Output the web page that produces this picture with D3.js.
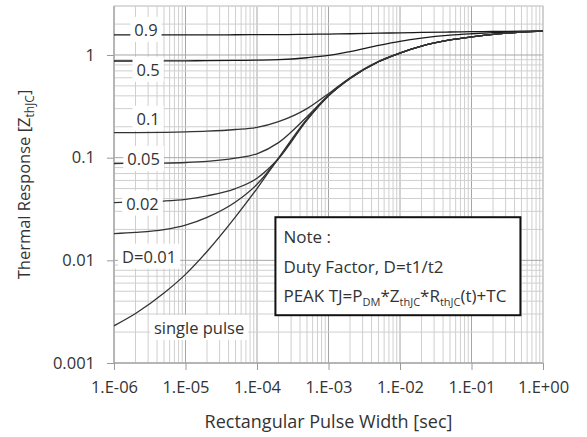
<!DOCTYPE html>
<html lang="en">
<head>
<meta charset="UTF-8">
<title>Thermal Response</title>
<style>
  body { margin: 0; padding: 0; background: #fff; }
  svg { display: block; font-family: "Open Sans", "Noto Sans", sans-serif; }
</style>
</head>
<body>
<script src="https://d3js.org/d3.v7.min.js"></script>
<script>
// pulse widths (sec)
const pulseWidth = [1e-6, 2e-6, 5e-6, 1e-5, 2e-5, 5e-5, 1e-4, 2e-4, 5e-4, 1e-3, 2e-3, 5e-3, 1e-2, 2e-2, 5e-2, 1e-1, 2e-1, 5e-1, 1];

// thermal response per duty factor
const d090 = [1.57, 1.57, 1.57, 1.57, 1.57, 1.575, 1.58, 1.58, 1.59, 1.60, 1.61, 1.63, 1.645, 1.66, 1.675, 1.685, 1.695, 1.705, 1.71];
const d050 = [0.874, 0.874, 0.876, 0.878, 0.88, 0.885, 0.89, 0.90, 0.94, 0.99, 1.08, 1.24, 1.36, 1.46, 1.56, 1.61, 1.65, 1.69, 1.71];
const d010 = [0.175, 0.175, 0.176, 0.178, 0.181, 0.188, 0.197, 0.224, 0.30, 0.42, 0.60, 0.865, 1.047, 1.22, 1.40, 1.50, 1.59, 1.67, 1.71];
const d005 = [0.0877, 0.088, 0.0886, 0.0897, 0.092, 0.099, 0.109, 0.14, 0.25, 0.405, 0.593, 0.86, 1.045, 1.22, 1.40, 1.50, 1.59, 1.67, 1.71];
const d002 = [0.0365, 0.0369, 0.0378, 0.0393, 0.0425, 0.050, 0.063, 0.098, 0.232, 0.40, 0.591, 0.86, 1.045, 1.22, 1.40, 1.50, 1.59, 1.67, 1.71];
const d001 = [0.0182, 0.0187, 0.0199, 0.0220, 0.0262, 0.037, 0.055, 0.098, 0.234, 0.40, 0.59, 0.86, 1.045, 1.22, 1.40, 1.50, 1.59, 1.67, 1.71];
const single = [0.0023, 0.00303, 0.0048, 0.0073, 0.0122, 0.0265, 0.050, 0.099, 0.238, 0.40, 0.59, 0.86, 1.045, 1.22, 1.40, 1.50, 1.59, 1.67, 1.71];

const seriesValues = [d090, d050, d010, d005, d002, d001, single];
const seriesNames = ['0.9', '0.5', '0.1', '0.05', '0.02', 'D=0.01', 'single pulse'];
// where each series label sits, in data units [pulse width, response]
const labelAt = [[2.8e-6, 1.75], [3.0e-6, 0.714], [3.0e-6, 0.238], [2.6e-6, 0.0968], [2.5e-6, 0.0355], [3.1e-6, 0.0108], [1.55e-5, 0.00218]];

const xTickValues = [1e-6, 1e-5, 1e-4, 1e-3, 1e-2, 1e-1, 1];
const xTickLabels = ['1.E-06', '1.E-05', '1.E-04', '1.E-03', '1.E-02', '1.E-01', '1.E+00'];
const yTickValues = [0.001, 0.01, 0.1, 1];
const yTickLabels = ['0.001', '0.01', '0.1', '1'];

const width = 587, height = 437;
const margin = { top: 6, right: 44, bottom: 74, left: 114 };

const svg = d3.select('body').append('svg')
  .attr('width', width)
  .attr('height', height);

const x = d3.scaleLog().domain([1e-6, 1]).range([margin.left, width - margin.right]);
const y = d3.scaleLog().domain([0.001, 3]).range([height - margin.bottom, margin.top]);

const isMajor = v => Math.abs(Math.log10(v) - Math.round(Math.log10(v))) < 1e-9;

// grid
const grid = svg.append('g');
grid.selectAll('line.gx')
  .data(x.ticks())
  .enter().append('line')
  .attr('x1', d => x(d)).attr('x2', d => x(d))
  .attr('y1', y.range()[0]).attr('y2', y.range()[1])
  .attr('stroke', d => isMajor(d) ? '#a6a6a6' : '#cfcfcf')
  .attr('stroke-width', 1);
grid.selectAll('line.gy')
  .data(y.ticks())
  .enter().append('line')
  .attr('y1', d => y(d)).attr('y2', d => y(d))
  .attr('x1', x.range()[0]).attr('x2', x.range()[1])
  .attr('stroke', d => isMajor(d) ? '#a6a6a6' : '#cfcfcf')
  .attr('stroke-width', 1);

// plot border
svg.append('rect')
  .attr('x', x.range()[0]).attr('y', y.range()[1])
  .attr('width', x.range()[1] - x.range()[0])
  .attr('height', y.range()[0] - y.range()[1])
  .attr('fill', 'none')
  .attr('stroke', '#cfcfcf');
svg.append('line')
  .attr('x1', x.range()[0]).attr('x2', x.range()[0])
  .attr('y1', y.range()[0]).attr('y2', y.range()[1])
  .attr('stroke', '#9a9a9a');
svg.append('line')
  .attr('x1', x.range()[0]).attr('x2', x.range()[1])
  .attr('y1', y.range()[0]).attr('y2', y.range()[0])
  .attr('stroke', '#9a9a9a');

// axes
const xAxis = svg.append('g')
  .attr('transform', `translate(0,${y.range()[0]})`)
  .call(d3.axisBottom(x).tickValues(xTickValues)
    .tickFormat((d, i) => xTickLabels[i]).tickSize(7).tickPadding(11));
const yAxis = svg.append('g')
  .attr('transform', `translate(${x.range()[0]},0)`)
  .call(d3.axisLeft(y).tickValues(yTickValues)
    .tickFormat((d, i) => yTickLabels[i]).tickSize(7).tickPadding(12));
[xAxis, yAxis].forEach(a => {
  a.select('.domain').remove();
  a.selectAll('line').attr('stroke', '#9a9a9a');
  a.selectAll('text')
    .attr('font-family', '"Open Sans", sans-serif')
    .attr('font-size', 16.5)
    .attr('fill', '#333');
});

// curves
svg.append('clipPath').attr('id', 'plot')
  .append('rect')
  .attr('x', x.range()[0]).attr('y', y.range()[1])
  .attr('width', x.range()[1] - x.range()[0])
  .attr('height', y.range()[0] - y.range()[1]);

const line = d3.line()
  .x(d => x(d[0]))
  .y(d => y(d[1]))
  .curve(d3.curveMonotoneX);

svg.append('g').attr('clip-path', 'url(#plot)')
  .selectAll('path')
  .data(seriesValues)
  .enter().append('path')
  .attr('d', vals => line(vals.map((v, i) => [pulseWidth[i], v])))
  .attr('fill', 'none')
  .attr('stroke', (d, i) => i < 2 ? '#1a1a1a' : '#333')
  .attr('stroke-width', 1.3);

// series labels on white boxes
const labels = svg.append('g');
seriesNames.forEach((name, i) => {
  const g = labels.append('g');
  const t = g.append('text')
    .attr('x', x(labelAt[i][0]))
    .attr('y', y(labelAt[i][1]))
    .attr('dy', '0.35em')
    .attr('text-anchor', 'middle')
    .attr('font-size', 16.5)
    .attr('fill', '#333')
    .text(name);
  const b = t.node().getBBox();
  g.insert('rect', 'text')
    .attr('x', b.x - 4).attr('y', b.y - 1)
    .attr('width', b.width + 8).attr('height', b.height + 2)
    .attr('fill', '#fff');
});

// note box
const note = svg.append('g').attr('transform', `translate(${x(1.81e-4)},${y(0.0263)})`);
note.append('rect')
  .attr('width', 245).attr('height', 98)
  .attr('fill', '#fff')
  .attr('stroke', '#111')
  .attr('stroke-width', 2);
const noteText = note.append('g')
  .attr('font-size', 17)
  .attr('fill', '#333');
noteText.append('text').attr('x', 8).attr('y', 26).text('Note :');
noteText.append('text').attr('x', 8).attr('y', 56).text('Duty Factor, D=t1/t2');
const peak = noteText.append('text').attr('x', 8).attr('y', 85);
peak.append('tspan').text('PEAK TJ=P');
peak.append('tspan').attr('font-size', 11).attr('dy', 4).text('DM');
peak.append('tspan').attr('dy', -4).text('*Z');
peak.append('tspan').attr('font-size', 11).attr('dy', 4).text('thJC');
peak.append('tspan').attr('dy', -4).text('*R');
peak.append('tspan').attr('font-size', 11).attr('dy', 4).text('thJC');
peak.append('tspan').attr('dy', -4).text('(t)+TC');

// axis titles
svg.append('text')
  .attr('x', (x.range()[0] + x.range()[1]) / 2)
  .attr('y', 428)
  .attr('text-anchor', 'middle')
  .attr('font-size', 18)
  .attr('fill', '#333')
  .text('Rectangular Pulse Width [sec]');

const yTitle = svg.append('text')
  .attr('transform', `translate(30,${(y.range()[0] + y.range()[1]) / 2}) rotate(-90)`)
  .attr('text-anchor', 'middle')
  .attr('font-size', 16.5)
  .attr('fill', '#333');
yTitle.append('tspan').text('Thermal Response [Z');
yTitle.append('tspan').attr('font-size', 12).attr('dy', 4).text('thJC');
yTitle.append('tspan').attr('dy', -4).text(']');
</script>
</body>
</html>
